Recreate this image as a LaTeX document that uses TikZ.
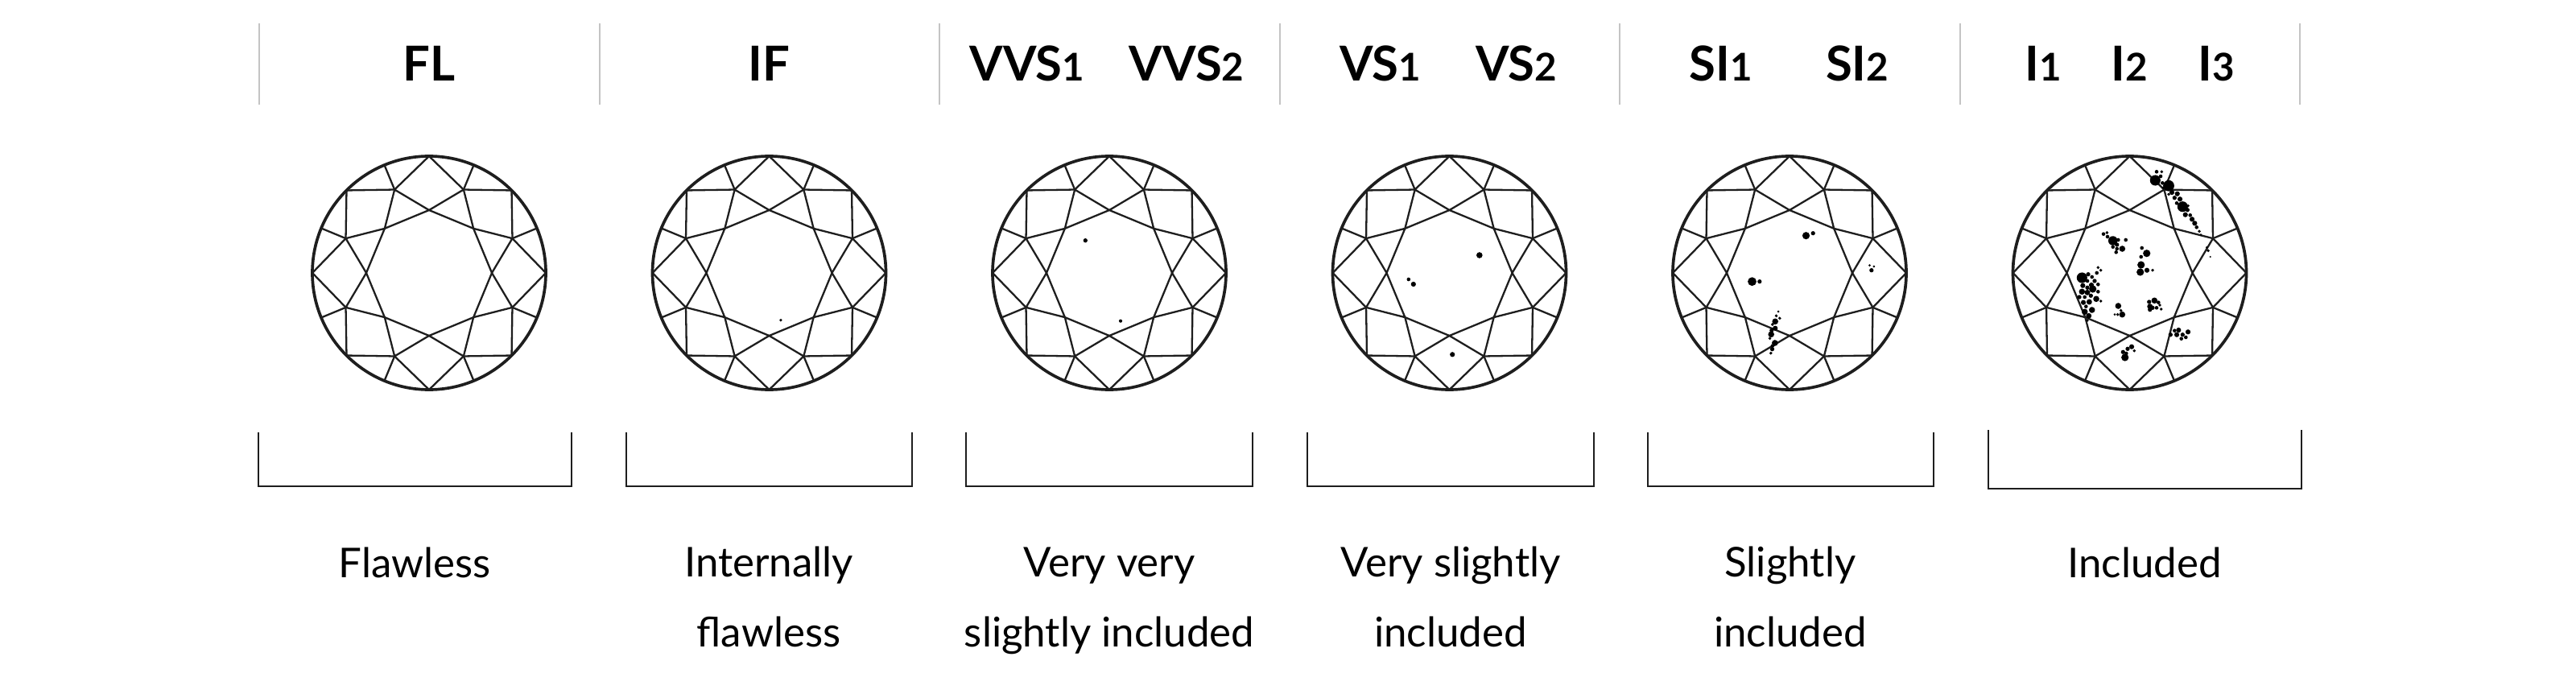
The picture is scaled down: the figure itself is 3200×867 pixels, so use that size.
\documentclass[tikz,border=0pt]{standalone}
\usepackage{fontspec}
\setmainfont{Lato}
\usetikzlibrary{positioning}
\definecolor{linie}{HTML}{1E1E1E}
\definecolor{trenner}{HTML}{C4C4C4}
\newcommand{\klein}[1]{{\fontsize{13.5}{13.5}\selectfont #1}}
\newcommand{\schliff}[1]{%
  \begin{scope}[shift={(#1)}]
    \foreach \k in {0,...,7}{
      \pgfmathsetmacro{\a}{45*\k}
      \draw[facette] (\a:78) -- (\a+22.5:112) -- (\a+45:78) -- cycle;
      \draw[facette] (\a:145) -- (\a+22.5:112) -- (\a+45:145);
      \draw[facette] (\a+22.5:112) -- (\a+22.5:145);
    }
    \draw[rundiste] (0,0) circle[radius=145];
  \end{scope}}

\begin{document}
\begin{tikzpicture}[x=0.01cm,y=-0.01cm,
    facette/.style={draw=linie,line width=0.65pt,line join=round},
    rundiste/.style={draw=linie,line width=1.05pt},
    trenn/.style={draw=trenner,line width=0.6pt},
    klammer/.style={draw=linie,line width=0.75pt},
    kopf/.style={font=\fontsize{17}{17}\bfseries\selectfont,inner sep=0pt},
    beschrift/.style={font=\fontsize{14.5}{24.5}\selectfont,align=center,inner sep=0pt},
    punkt/.style={fill=black}]

  \useasboundingbox[fill=white] (0,0) rectangle (3200,867);

  % 1. Steine
  \foreach \i in {0,...,5}
    \coordinate (C\i) at (533+422.5*\i,339);
  \foreach \c in {C0,C1,C2,C3,C4,C5} {\schliff{\c}}

  % 2. Kopfzeile
  \foreach \x in {322,745,1167,1590,2012,2435,2857}
    \draw[trenn] (\x,29) -- (\x,130);
  \node[kopf] (FL)   [above=2.38cm of C0.center,anchor=base] {FL};
  \node[kopf] (IF)   [above=2.38cm of C1.center,anchor=base] {IF};
  \node[kopf] (VVS1) [above left=2.38cm and 1.02cm of C2.center,anchor=base] {VVS\klein{1}};
  \node[kopf] (VVS2) [above right=2.38cm and 0.96cm of C2.center,anchor=base] {VVS\klein{2}};
  \node[kopf] (VS1)  [above left=2.38cm and 0.86cm of C3.center,anchor=base] {VS\klein{1}};
  \node[kopf] (VS2)  [above right=2.38cm and 0.83cm of C3.center,anchor=base] {VS\klein{2}};
  \node[kopf] (SI1)  [above left=2.38cm and 0.85cm of C4.center,anchor=base] {SI\klein{1}};
  \node[kopf] (SI2)  [above right=2.38cm and 0.84cm of C4.center,anchor=base] {SI\klein{2}};
  \node[kopf] (I1)   [above left=2.38cm and 1.07cm of C5.center,anchor=base] {I\klein{1}};
  \node[kopf] (I2)   [above=2.38cm of C5.center,anchor=base] {I\klein{2}};
  \node[kopf] (I3)   [above right=2.38cm and 1.08cm of C5.center,anchor=base] {I\klein{3}};

  % 3. Einschluesse
  \begin{scope}[shift={(C1)}]
    \fill[punkt] (14.4,58.7) circle[radius=1.8];
  \end{scope}
  \begin{scope}[shift={(C2)}]
    \foreach \x/\y/\r in {-29.7/-40.3/2.3, 14/59.7/1.8}
      \fill[punkt] (\x,\y) circle[radius=1.15*\r];
  \end{scope}
  \begin{scope}[shift={(C3)}]
    \foreach \x/\y/\r in {37.3/-22/3.3, -50.7/8/2, -44.7/14/2.7, 3.7/101.3/2.7}
      \fill[punkt] (\x,\y) circle[radius=1.15*\r];
  \end{scope}
  \begin{scope}[shift={(C4)}]
    \foreach \x/\y/\r in {20.5/-46.3/4, 29.2/-49.3/2.3, -46.5/10.7/4.7, -37.2/10.7/2.3,
        99.5/-9.3/1.3, 104.8/-8/1.3, 101.8/-3.3/2.3,
        -13.8/48/1.3, -16.5/53.3/1.7, -12.2/56.3/1.7, -17.8/60.3/3.3, -21.2/64/1.7,
        -17.8/68.7/2.7, -22.2/71.3/2.3, -22.8/76.3/3.3, -24.5/81.3/1.7, -18.2/87/3.3,
        -21.2/90.7/2, -21.5/94.7/2.3, -23.2/99.7/1.7}
      \fill[punkt] (\x,\y) circle[radius=1.15*\r];
  \end{scope}
  \begin{scope}[shift={(C5)}]
    \foreach \x/\y/\r in {33.5/-125.7/2, 39.8/-125.7/1.7, 31.8/-115/5.7, 38.5/-120/2,
        40.8/-111.7/2, 48.5/-108.3/6, 41.8/-105.7/1.7, 52.5/-100/2.7, 59.2/-98.3/2.7,
        48.5/-97.7/1.7, 55.8/-93.3/2.3, 62.5/-91.7/2.7, 65.8/-82.3/5.7, 58.5/-86.7/2,
        72.5/-83.3/1.7, 71.8/-78.3/2.3, 69.2/-72.3/2.7, 75.2/-71.7/2, 77.5/-66.7/2.7,
        80.8/-61.7/2.7, 83.2/-56.7/2, 86.5/-51.7/1.7, 88.5/-47.3/1.3,
        95.8/-31.7/1.3, 97.5/-27.7/1.7, 100.2/-20/1,
        -32.5/-48.3/2, -28.2/-50/1.7, -27.5/-45/2, -20.8/-40/5, -14.2/-41/2, -4.8/-41/2,
        -15.8/-35/2.3, -9.2/-30/3.3, -15.8/-30/2, -20.8/-32.3/2, -16.8/-25.7/2,
        15.2/-31/2, 21.2/-24.3/4, 14.2/-20/2, 14.2/-10/4, 13.2/-1/4, 21.5/-3.3/2.7, 28.5/-3.3/1.7,
        -59.2/6/5.7, -51.5/1.7/2.3, -46.8/5/2, -39.2/-6.7/1.7, -35.8/-3.3/1.7, -40.8/0/2,
        -43.5/10/2.3, -52.5/10/2, -47.5/15/2.7, -39.2/14.3/2, -58.2/15.7/2.7, -52.5/18.3/2.3,
        -59.2/23.3/3.3, -52.5/24.3/3, -45.8/20/4, -39.2/23.3/2, -62.5/30/2.3, -55.8/30/2,
        -48.2/28.3/2.3, -41.5/32.3/3.3, -35.8/35/1.7, -57.5/36.7/2.7, -50.2/36/3,
        -54.2/41.7/2, -46.8/46/3.3, -55.8/48.3/3.3, -50.8/53.3/3, -52.5/59/1.7,
        -14.2/41/3.3, -10.8/46.7/1.7, -9.2/51.7/3.3, -14.8/51.7/1.7, -18.5/51.7/1.3,
        30.8/34.3/3.3, 24.2/36/2.3, 35.8/36.7/2, 25.2/41.7/3, 28.5/43.3/2.3, 33.5/43.3/2,
        37.5/40/1.7, 39.2/45/1.7, 25.2/45.7/2.3,
        50.8/76.7/2.3, 55.8/71.7/2, 60.8/71/2.7, 58.5/76.7/2.7, 65.8/76.7/2.3, 72.5/73.3/2.7,
        64.2/81.7/2, 69.8/80/2,
        -5.8/105/4, -8.2/98.3/2.3, -2.5/94.3/2.3, 2.5/91.7/2.7, -4.2/100/2, 5.8/96.7/1.7}
      \fill[punkt] (\x,\y) circle[radius=1.15*\r];
  \end{scope}

  % 4. Klammern
  \foreach \l/\r/\o/\u in {321/710/537/604, 778/1133/537/604, 1200/1556/537/604,
      1624/1980/537/604, 2047/2402/537/604, 2470/2859/534/607}
    \draw[klammer] (\l,\o) |- (\r,\u) -- (\r,\o);

  % 5. Beschriftung
  \node[beschrift,anchor=base] (L0) at (515,717)  {Flawless};
  \node[beschrift,anchor=base] (L1) at (955,803)  {Internally\\flawless};
  \node[beschrift,anchor=base] (L2) at (1378,803) {Very very\\slightly included};
  \node[beschrift,anchor=base] (L3) at (1802,803) {Very slightly\\included};
  \node[beschrift,anchor=base] (L4) at (2224,803) {Slightly\\included};
  \node[beschrift,anchor=base] (L5) at (2664,717) {Included};

\end{tikzpicture}
\end{document}
